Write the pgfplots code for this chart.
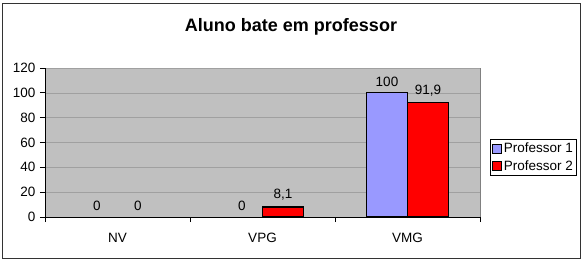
\documentclass[border=0pt]{standalone}
\usepackage{pgfplots}
\pgfplotsset{compat=1.18}
\usepackage{fontspec}
\setmainfont{Liberation Sans}
\definecolor{bggray}{RGB}{192,192,192}
\definecolor{gridgray}{RGB}{160,160,160}
\definecolor{pone}{RGB}{153,153,255}
\definecolor{ptwo}{RGB}{255,0,0}
\begin{document}
\begin{tikzpicture}[x=1pt,y=1pt]
\useasboundingbox (0,0) rectangle (583,263);
\draw[line width=1pt, black!80] (2.5,4.5) rectangle (580,259.5);
\node[font=\fontsize{18}{21}\selectfont\bfseries] at (291,236) {Aluno bate em professor};
\begin{axis}[
  at={(45pt,46pt)}, anchor=south west,
  scale only axis, width=435pt, height=149pt,
  xmin=-0.5, xmax=2.5, ymin=0, ymax=120,
  ytick={0,20,...,120},
  xtick={0,1,2}, xticklabels={NV,VPG,VMG},
  minor xtick={-0.5,0.5,1.5,2.5},
  major x tick style={draw=none},
  minor x tick style={black, line width=1pt},
  minor tick length=5pt, major tick length=5pt,
  tick align=outside,
  axis x line*=bottom, axis y line*=left,
  axis line style={black,-, line width=1pt},
  y tick style={black, line width=1pt},
  ymajorgrids, grid style={gridgray, line width=0.6pt},
  axis background/.style={fill=bggray, draw=gray},
  /pgf/number format/assume math mode=true,
  /pgf/number format/use comma,
  ticklabel style={font=\fontsize{13.5}{16}\selectfont},
  yticklabel style={xshift=-1pt},
  xticklabel style={yshift=-8pt},
  ybar, bar width=41pt,
  every node near coord/.append style={font=\fontsize{13.5}{16}\selectfont, yshift=3pt},
  legend style={at={(1,0.4)}, anchor=west, xshift=10pt, font=\fontsize{13.5}{16}\selectfont,
    draw=black, inner sep=1.5pt, row sep=2pt, legend cell align=left},
  legend image code/.code={\draw[#1, draw=black] (0pt,-4.5pt) rectangle (9pt,4.5pt);},
]
\addplot[fill=pone, draw=black, line width=1.2pt, bar shift=-20.5pt] coordinates {(2,100)};
\addplot[fill=ptwo, draw=black, line width=1.2pt, bar shift=20.5pt] coordinates {(1,8.1) (2,91.9)};
\addplot[draw=none, fill=none, bar shift=-20.5pt, nodes near coords, forget plot] coordinates {(0,0) (1,0) (2,100)};
\addplot[draw=none, fill=none, bar shift=20.5pt, nodes near coords, forget plot] coordinates {(0,0) (1,8.1) (2,91.9)};
\legend{Professor 1, Professor 2}
\end{axis}
\end{tikzpicture}
\end{document}
